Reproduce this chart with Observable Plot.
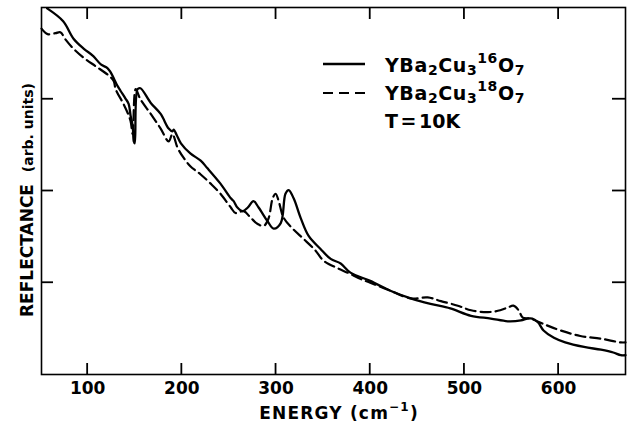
<!DOCTYPE html>
<html><head><meta charset="utf-8">
<script src="https://cdn.jsdelivr.net/npm/d3@7"></script>
<script src="https://cdn.jsdelivr.net/npm/@observablehq/plot@0.6"></script>
<style>
body{margin:0;background:#fff;}
#chart svg{display:block;}
</style></head><body><div id="chart"></div>
<script>
// YBa2Cu3(16)O7 reflectance, [energy cm^-1, reflectance arb. units]
const solid16 = [[57,3.99],[74,3.85],[85,3.66],[96,3.55],[106,3.47],[114,3.38],[121,3.34],[124,3.30],[132,3.14],[135,3.09],[140,3.01],[143.5,2.95],[145.6,2.82],[147.8,2.71],[149,2.54],[150,2.52],[153,3.11],[156,3.12],[167,2.96],[177.5,2.84],[186,2.68],[190,2.65],[191.3,2.67],[194.5,2.61],[199,2.52],[209,2.41],[220,2.33],[227,2.25],[241,2.08],[252,1.92],[255,1.89],[259,1.82],[264.6,1.78],[270,1.82],[276,1.89],[281.5,1.82],[291,1.67],[297.5,1.59],[305,1.65],[310,1.97],[313.4,2.01],[318.7,1.92],[326,1.71],[334.6,1.51],[347,1.37],[358,1.26],[368.6,1.21],[379,1.11],[400,1.02],[422,0.91],[443,0.83],[464,0.77],[485,0.72],[507,0.64],[528,0.61],[546,0.58],[560,0.59],[567,0.61],[572,0.61],[578,0.57],[584,0.48],[595,0.40],[607,0.35],[627,0.30],[645,0.27],[658,0.24],[666,0.21],[671,0.21]];
// YBa2Cu3(18)O7 reflectance
const dashed18 = [[51,3.77],[57.5,3.71],[66,3.72],[71,3.73],[76.6,3.65],[85,3.55],[96,3.45],[108.5,3.36],[121,3.27],[127.6,3.20],[129.7,3.11],[138,2.95],[142.5,2.85],[145.6,2.76],[147.8,2.62],[151,3.11],[156,3.0],[167,2.84],[177.5,2.68],[186,2.54],[190,2.62],[195.5,2.47],[202,2.36],[209,2.27],[220,2.18],[230.6,2.08],[241,1.97],[252,1.82],[257,1.76],[265.6,1.78],[273,1.71],[280.5,1.64],[287,1.62],[292,1.70],[296.4,1.92],[299.6,1.97],[302.8,1.89],[308,1.71],[317.6,1.59],[329,1.48],[342,1.35],[350.5,1.24],[365,1.16],[376,1.11],[390,1.04],[400,1.00],[422,0.91],[443,0.83],[461,0.84],[475,0.80],[493,0.75],[507,0.70],[525,0.68],[538,0.70],[546,0.73],[552,0.75],[557.5,0.70],[562,0.62],[570,0.61],[584,0.55],[602,0.48],[623,0.42],[645,0.39],[666,0.35],[671,0.35]];
const xTicks = [100,200,300,400,500,600];
const yTicks = [1,2,3];
const xDomain = [51, 671];
const yDomain = [0, 4];
const xLabelMain = "ENERGY (cm";
const xLabelSup = "\u22121";
const yLabelCaps = "REFLECTANCE";
const yLabelUnits = "(arb. units)";
const legendNames = [["YBa","2","Cu","3","16","O","7"],["YBa","2","Cu","3","18","O","7"]];
const tempLabel = "T = 10K";

const W = 628, H = 423, mt = 7, mr = 3, mb = 49, ml = 41;
const font = '"DejaVu Sans", sans-serif';

const chart = Plot.plot({
  width: W, height: H,
  marginTop: mt, marginRight: mr, marginBottom: mb, marginLeft: ml,
  style: {fontFamily: font, fontSize: "17px", fontWeight: "bold", color: "#000", background: "#fff"},
  x: {domain: xDomain},
  y: {domain: yDomain, axis: null},
  marks: [
    Plot.frame({stroke: "#000", strokeWidth: 1.6}),
    Plot.axisX({ticks: xTicks, tickSize: 0, tickPadding: 7, fontSize: 17, fontWeight: "bold", label: null}),
    Plot.line(dashed18, {x: d => d[0], y: d => d[1], stroke: "#000", strokeWidth: 2.2, strokeDasharray: "10,5", curve: "catmull-rom"}),
    Plot.line(solid16, {x: d => d[0], y: d => d[1], stroke: "#000", strokeWidth: 2.3, curve: "catmull-rom"})
  ]
});
document.getElementById("chart").appendChild(chart);

const svg = d3.select(chart);
const sx = chart.scale("x"), sy = chart.scale("y");
const fx0 = sx.apply(xDomain[0]), fx1 = sx.apply(xDomain[1]);
const fy0 = sy.apply(yDomain[0]), fy1 = sy.apply(yDomain[1]);
// inward ticks on all four sides, placed with Plot's scales
const tk = svg.append("g").attr("stroke", "#000").attr("stroke-width", 1.8);
xTicks.forEach(v => {
  const px = sx.apply(v);
  tk.append("line").attr("x1", px).attr("x2", px).attr("y1", fy0).attr("y2", fy0 - 11);
  tk.append("line").attr("x1", px).attr("x2", px).attr("y1", fy1).attr("y2", fy1 + 12);
});
yTicks.forEach(v => {
  const py = sy.apply(v);
  tk.append("line").attr("x1", fx0).attr("x2", fx0 + 12).attr("y1", py).attr("y2", py);
  tk.append("line").attr("x1", fx1).attr("x2", fx1 - 13).attr("y1", py).attr("y2", py);
});

// y-axis label
const yl = svg.append("text")
  .attr("transform", "translate(33,317) rotate(-90)")
  .attr("text-anchor", "start")
  .attr("font-family", font).attr("font-weight", "bold").attr("font-size", 17).attr("fill", "#000")
  .style("white-space", "pre");
yl.append("tspan").text(yLabelCaps);
yl.append("tspan").text("  ");
yl.append("tspan").attr("font-size", 14).text(yLabelUnits);

// x-axis label
const xl = svg.append("text")
  .attr("x", 339).attr("y", 419).attr("text-anchor", "middle")
  .attr("font-family", font).attr("font-weight", "bold").attr("font-size", 17).attr("letter-spacing", 1.2).attr("fill", "#000");
xl.append("tspan").text(xLabelMain);
xl.append("tspan").attr("font-size", 12).attr("dy", -8).text(xLabelSup);
xl.append("tspan").attr("dy", 8).text(")");

// legend
const lg = svg.append("g").attr("font-family", font).attr("font-weight", "bold").attr("fill", "#000").attr("text-anchor", "start");
lg.append("line").attr("x1", 323).attr("x2", 365).attr("y1", 64).attr("y2", 64)
  .attr("stroke", "#000").attr("stroke-width", 2.3);
lg.append("line").attr("x1", 323).attr("x2", 365).attr("y1", 93).attr("y2", 93)
  .attr("stroke", "#000").attr("stroke-width", 2.2).attr("stroke-dasharray", "10,6");
legendNames.forEach((parts, i) => {
  const t = lg.append("text").attr("x", 385).attr("y", 72 + 28 * i)
    .attr("font-size", 19).attr("letter-spacing", 0.6);
  t.append("tspan").text(parts[0]);
  t.append("tspan").attr("font-size", 14).attr("dy", 3).text(parts[1]);
  t.append("tspan").attr("dy", -3).text(parts[2]);
  t.append("tspan").attr("font-size", 14).attr("dy", 3).text(parts[3]);
  t.append("tspan").attr("font-size", 14).attr("dy", -12).text(parts[4]);
  t.append("tspan").attr("dy", 9).text(parts[5]);
  t.append("tspan").attr("font-size", 14).attr("dy", 3).text(parts[6]);
});
lg.append("text").attr("x", 385).attr("y", 128).attr("font-size", 19).attr("word-spacing", -4)
  .style("white-space", "pre").text(tempLabel);
</script></body></html>
